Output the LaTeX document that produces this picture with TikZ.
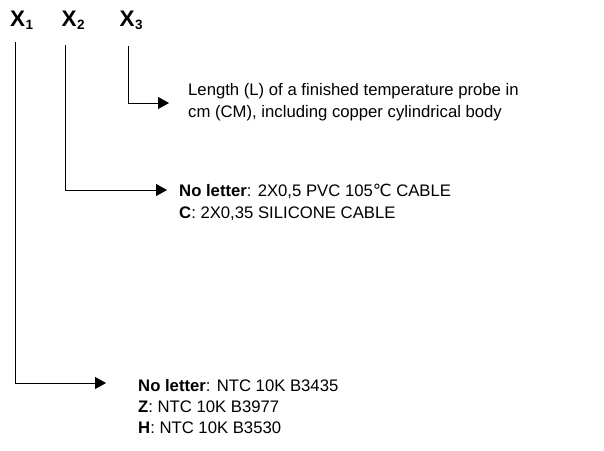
\documentclass[tikz,border=0pt]{standalone}
\usepackage{fontspec}
\setmainfont{Liberation Sans}
\newfontfamily\symfont{DejaVu Sans}
\usetikzlibrary{arrows.meta}
\begin{document}
\begin{tikzpicture}[x=1pt,y=-1pt,
  conn/.style={line width=0.9pt,-{Triangle[length=11pt,width=12pt]}},
  head/.style={font=\fontsize{22.5}{26}\selectfont\bfseries,inner sep=0pt,anchor=base west},
  sub/.style={font=\fontsize{13.5}{16}\selectfont\bfseries,inner sep=0pt,anchor=base west},
  desc/.style={font=\fontsize{16.7}{20}\selectfont,inner sep=0pt,anchor=base west}]
\useasboundingbox (0,0) rectangle (604,450);
% headings
\node[head] (x1) at (10,26.5) {X};
\node[sub] (s1) at (x1.base east) [yshift=-3pt] {1};
\node[head] (x2) at (61.5,26.5) {X};
\node[sub] (s2) at (x2.base east) [yshift=-3pt] {2};
\node[head] (x3) at (119.5,26.5) {X};
\node[sub] (s3) at (x3.base east) [yshift=-3pt] {3};
% descriptions
\node[desc] (t3a) at (188,95.5) {Length (L) of a finished temperature probe in};
\node[desc] (t3b) at (188,117) {cm (CM), including copper cylindrical body};
\node[desc] (t2a) at (179,196) {\textbf{No letter}: 2X0,5 PVC 105{\symfont ℃} CABLE};
\node[desc] (t2b) at (179,218) {\textbf{C}: 2X0,35 SILICONE CABLE};
\node[desc] (t1a) at (138,391) {\textbf{No letter}: NTC 10K B3435};
\node[desc] (t1b) at (138,412) {\textbf{Z}: NTC 10K B3977};
\node[desc] (t1c) at (138,433) {\textbf{H}: NTC 10K B3530};
% connectors
\coordinate (a3) at (128,46);
\coordinate (c3) at (128,103);
\coordinate (e3) at (169,103);
\coordinate (a2) at (65,45);
\coordinate (c2) at (65,190);
\coordinate (e2) at (167,190);
\coordinate (a1) at (15,42);
\coordinate (c1) at (15,383);
\coordinate (e1) at (106,383);
\draw[conn] (a3) -- (c3) -- (e3);
\draw[conn] (a2) -- (c2) -- (e2);
\draw[conn] (a1) -- (c1) -- (e1);
\end{tikzpicture}
\end{document}
